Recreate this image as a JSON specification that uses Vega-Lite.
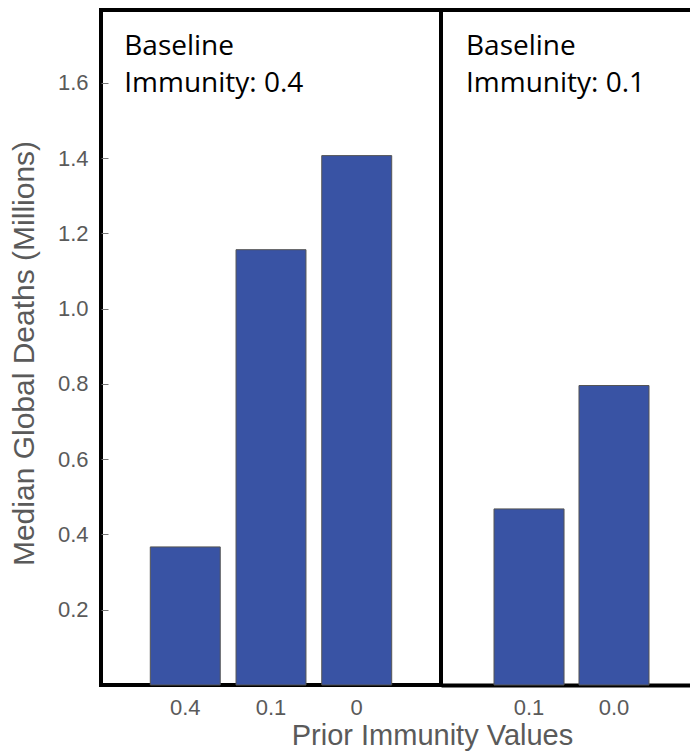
{
  "$schema": "https://vega.github.io/schema/vega-lite/v6.json",
  "padding": {"left": 7, "top": 8, "right": 0, "bottom": 0},
  "spacing": 0,
  "bounds": "flush",
  "config": {
    "font": "Liberation Sans",
    "view": {"stroke": "black", "strokeWidth": 4},
    "axis": {"labelColor": "#5a5a5a", "titleColor": "#5a5a5a", "labelFont": "Liberation Sans", "titleFont": "Liberation Sans", "titleFontWeight": "normal"}
  },
  "hconcat": [
    {
      "width": 340,
      "height": 675,
      "data": {"values": [
        {"prior": "0.4", "deaths": 0.367, "panel": "Baseline\nImmunity: 0.4"},
        {"prior": "0.1", "deaths": 1.157, "panel": "Baseline\nImmunity: 0.4"},
        {"prior": "0", "deaths": 1.407, "panel": "Baseline\nImmunity: 0.4"}
      ]},
      "encoding": {
        "x": {"field": "prior", "type": "nominal", "sort": null,
          "scale": {"paddingInner": 0.184, "paddingOuter": 0.575, "align": 0.5},
          "axis": {"title": "Prior Immunity Values", "labelAngle": 0, "labelFontSize": 22, "labelPadding": 12, "ticks": false, "domain": false,
            "titleFontSize": 29, "titleX": 331, "titleAlign": "center", "titlePadding": 3}},
        "y": {"field": "deaths", "type": "quantitative",
          "scale": {"domain": [0, 1.794], "nice": false},
          "axis": {"title": "Median Global Deaths (Millions)", "values": [0.2, 0.4, 0.6, 0.8, 1.0, 1.2, 1.4, 1.6], "format": ".1f",
            "grid": false, "domain": false, "tickSize": -7, "tickColor": "#777", "labelFontSize": 22, "labelPadding": 20,
            "titleFontSize": 30, "titlePadding": 18, "titleY": 343}}
      },
      "layer": [
        {"mark": {"type": "bar", "color": "#3953a4", "stroke": "#555", "strokeWidth": 1}},
        {"transform": [{"filter": "datum.prior == '0.4'"}],
         "mark": {"type": "text", "align": "left", "baseline": "alphabetic", "dx": -61, "lineBreak": "\n", "lineHeight": 37, "font": "Open Sans", "fontSize": 28, "color": "black"},
         "encoding": {"text": {"field": "panel"}, "y": {"datum": 1.674}}}
      ]
    },
    {
      "width": 250,
      "height": 675,
      "view": {"stroke": null},
      "data": {"values": [
        {"prior": "0.1", "deaths": 0.468, "panel": "Baseline\nImmunity: 0.1"},
        {"prior": "0.0", "deaths": 0.796, "panel": "Baseline\nImmunity: 0.1"}
      ]},
      "encoding": {
        "x": {"field": "prior", "type": "nominal", "sort": null,
          "scale": {"paddingInner": 0.176, "paddingOuter": 0.559, "align": 0.558},
          "axis": {"title": null, "labelAngle": 0, "labelFontSize": 22, "labelPadding": 12, "ticks": false, "domain": true, "domainColor": "black", "domainWidth": 4}},
        "y": {"field": "deaths", "type": "quantitative",
          "scale": {"domain": [0, 1.794], "nice": false},
          "axis": null}
      },
      "layer": [
        {"mark": {"type": "bar", "color": "#3953a4", "stroke": "#555", "strokeWidth": 1}},
        {"transform": [{"filter": "datum.prior == '0.1'"}],
         "mark": {"type": "text", "align": "left", "baseline": "alphabetic", "dx": -63, "lineBreak": "\n", "lineHeight": 37, "font": "Open Sans", "fontSize": 28, "color": "black"},
         "encoding": {"text": {"field": "panel"}, "y": {"datum": 1.674}}},
        {"mark": {"type": "rule", "color": "black", "strokeWidth": 4},
         "encoding": {"y": {"datum": 1.794}, "x": null}}
      ]
    }
  ]
}
